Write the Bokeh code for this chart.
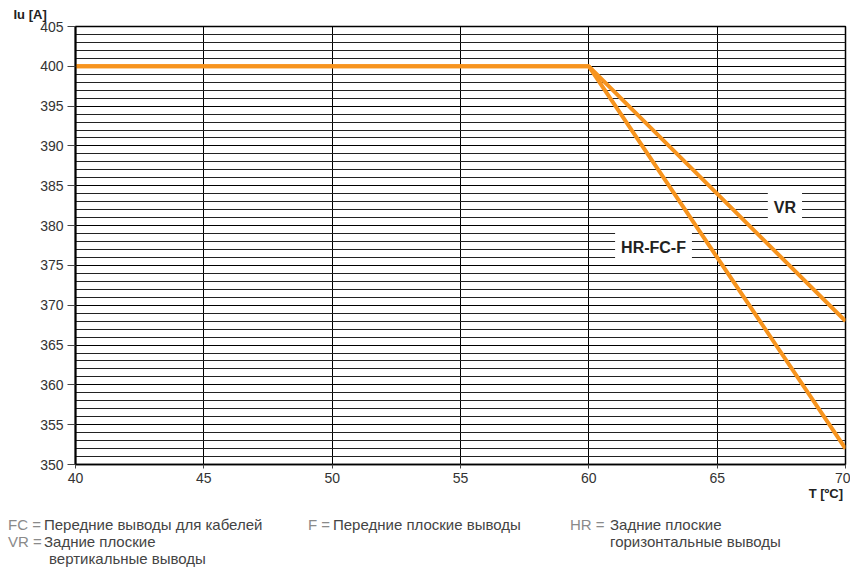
from bokeh.plotting import figure
from bokeh.models import Range1d, SingleIntervalTicker, Label, Div
from bokeh.layouts import column
from bokeh.embed import file_html
from bokeh.resources import INLINE

# data
temps = [40, 60, 70]
iu_vr = [400, 400, 368]
iu_hr_fc_f = [400, 400, 352]
x_ticks = [40, 45, 50, 55, 60, 65, 70]
y_ticks = [350, 355, 360, 365, 370, 375, 380, 385, 390, 395, 400, 405]
curve_names = ["VR", "HR-FC-F"]
note_keys = ["FC =", "F =", "HR =", "VR ="]
note_texts = ["Передние выводы для кабелей", "Передние плоские выводы",
              "Задние плоские", "Задние плоские"]
note_wrap = ["горизонтальные выводы", "вертикальные выводы"]
x_title = "T [ºC]"
y_title = "Iu [A]"

ORANGE = "#F7941E"
FONT = "Liberation Sans"

p = figure(width=850, height=488, output_backend="svg", toolbar_location=None,
           x_range=Range1d(40, 70), y_range=Range1d(350, 405),
           min_border_left=75, min_border_top=24, min_border_bottom=24, min_border_right=5)

p.title.text = y_title
p.title.align = "left"
p.title.offset = -62
p.title.standoff = 9
p.title.text_font = FONT
p.title.text_font_size = "13px"
p.title.text_font_style = "bold"
p.title.text_color = "#222222"

p.outline_line_color = "black"
p.outline_line_width = 1.5

p.xaxis.ticker = x_ticks
p.yaxis.ticker = SingleIntervalTicker(interval=5, num_minor_ticks=5)

for ax in (p.xaxis[0], p.yaxis[0]):
    ax.major_label_text_font = FONT
    ax.major_label_text_font_size = "14px"
    ax.major_label_text_color = "#333333"
    ax.axis_line_color = "black"
    ax.major_tick_line_color = "#444444"
    ax.minor_tick_line_color = None
    ax.major_tick_in = 0

p.yaxis.axis_line_width = 2
p.yaxis.major_tick_out = 8
p.yaxis.major_label_standoff = 4
p.xaxis.major_tick_out = 4
p.xaxis.major_label_standoff = 4
p.xaxis.axis_line_width = 1.5

p.xgrid.grid_line_color = "black"
p.xgrid.grid_line_width = 1
p.xgrid.ticker = x_ticks
p.ygrid.grid_line_color = "black"
p.ygrid.grid_line_width = 1.2
p.ygrid.minor_grid_line_color = "#222222"
p.ygrid.minor_grid_line_width = 1

p.line(temps, iu_vr, line_color=ORANGE, line_width=4)
p.line(temps, iu_hr_fc_f, line_color=ORANGE, line_width=4)

for name, (lx, ly) in zip(curve_names, [(67.64, 382.3), (62.52, 377.3)]):
    l = Label(x=lx, y=ly, text=name, text_font=FONT, text_font_size="16px",
              text_font_style="bold", text_color="#222222",
              text_align="center", text_baseline="middle",
              background_fill_color="white", padding=6)
    p.add_layout(l)

# notes below the chart
GRAY = "#8a8a8a"
DARK = "#444444"

def span(text, left, center_y, color, extra=""):
    return (f'<span style="position:absolute;left:{left}px;top:{center_y - 7}px;'
            f'line-height:14px;white-space:nowrap;color:{color};{extra}">{text}</span>')

key_pos = [(8, 37), (308, 37), (570, 37), (8, 54)]
txt_pos = [(44, 37), (333, 37), (610, 37), (44, 54)]
wrap_pos = [(610, 54), (49, 71)]

parts = [f'<span style="position:absolute;right:7px;top:-2px;line-height:16px;white-space:nowrap;'
         f'color:#222222;font-weight:bold;font-size:13px;">{x_title}</span>']
for t, (x, y) in zip(note_keys, key_pos):
    parts.append(span(t, x, y, GRAY))
for t, (x, y) in zip(note_texts, txt_pos):
    parts.append(span(t, x, y, DARK))
for t, (x, y) in zip(note_wrap, wrap_pos):
    parts.append(span(t, x, y, DARK))

html = (f'<div style="position:relative;width:850px;height:86px;margin:0;padding:0;'
        f"font-family:'{FONT}';font-size:15px;\">" + "".join(parts) + "</div>")
notes = Div(text=html, width=850, height=86, margin=0)

layout = column(p, notes, spacing=0)
open("out.html", "w").write(file_html(layout, INLINE))
